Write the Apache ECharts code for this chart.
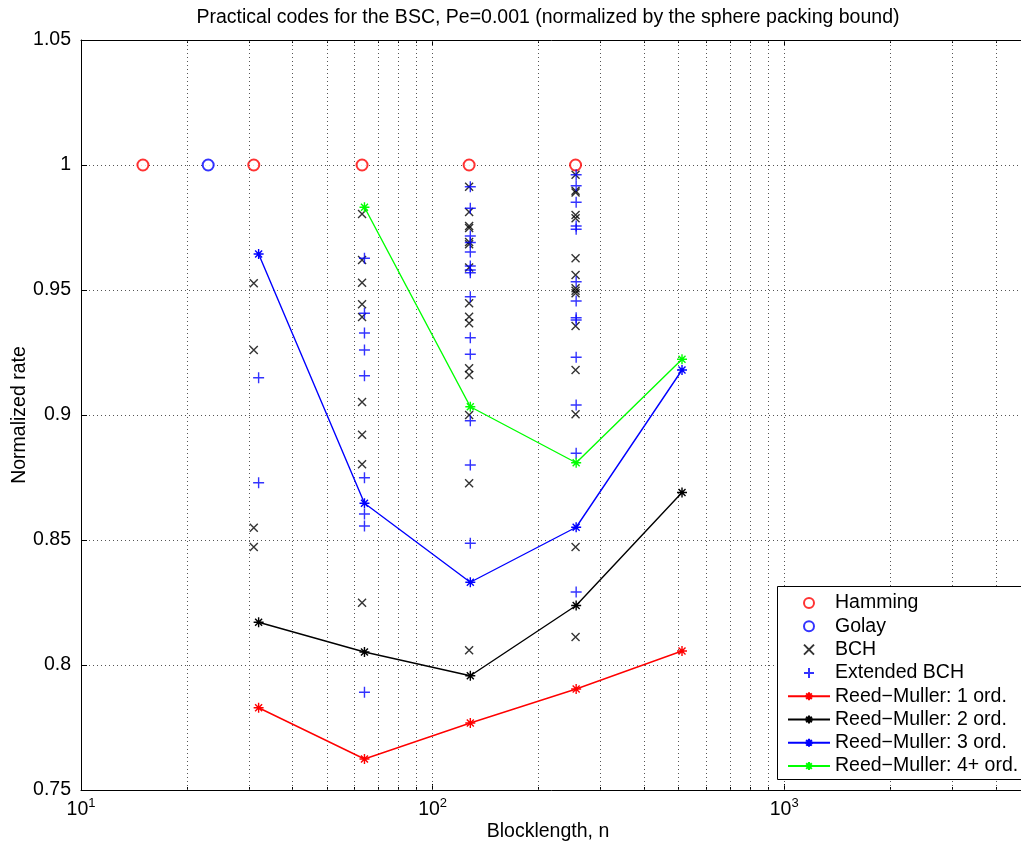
<!DOCTYPE html>
<html><head><meta charset="utf-8">
<script src="https://cdn.jsdelivr.net/npm/echarts@6/dist/echarts.min.js"></script>
<style>html,body{margin:0;padding:0;background:#fff}#c{width:1021px;height:844px}</style>
</head><body><div id="c"></div>
<script>
// ---------- data ----------
const hammingN = [15, 31, 63, 127, 255];
const hammingRate = [1, 1, 1, 1, 1];
const golayN = [23];
const golayRate = [1];

const bchN = [31, 63, 127, 255];
const bchRate31 = [0.9527, 0.926, 0.8549, 0.8472];
const bchRate63 = [0.9804, 0.962, 0.9529, 0.9443, 0.9392, 0.9052, 0.8921, 0.8803, 0.8249];
const bchRate127 = [0.9913, 0.9812, 0.9756, 0.9748, 0.9692, 0.9683, 0.959, 0.9447, 0.9393, 0.9367, 0.9187, 0.916, 0.900, 0.8727, 0.8059];
const bchRate255 = [0.9961, 0.9897, 0.989, 0.980, 0.9787, 0.9627, 0.956, 0.9507, 0.9497, 0.9487, 0.9356, 0.918, 0.9003, 0.8472, 0.8112];

const extN = [32, 64, 128, 256];
const extRate32 = [0.9149, 0.8729];
const extRate64 = [0.9627, 0.9407, 0.9328, 0.926, 0.9157, 0.8749, 0.8604, 0.8556, 0.7891];
const extRate128 = [0.9913, 0.9827, 0.9716, 0.969, 0.9652, 0.9596, 0.958, 0.9569, 0.9473, 0.9309, 0.9243, 0.8977, 0.880, 0.8487];
const extRate256 = [0.9961, 0.9917, 0.9851, 0.9756, 0.9743, 0.9533, 0.9456, 0.9389, 0.938, 0.9231, 0.904, 0.8847, 0.8292];

const rmN = [32, 64, 128, 256, 512];
const rm1Rate = [0.7829, 0.7624, 0.7768, 0.7904, 0.8056];
const rm2Rate = [0.8171, 0.8052, 0.7957, 0.8238, 0.869];
const rm3Rate = [0.9644, 0.8647, 0.8331, 0.8551, 0.918];
const rm4N = [64, 128, 256, 512];
const rm4Rate = [0.9831, 0.9033, 0.8809, 0.9223];

const xMajorTicks = [10, 100, 1000];
const xMinorTicks = [20, 30, 40, 50, 60, 70, 80, 90, 200, 300, 400, 500, 600, 700, 800, 900, 2000, 3000, 4000];

const titleText = 'Practical codes for the BSC, Pe=0.001 (normalized by the sphere packing bound)';
const xLabelText = 'Blocklength, n';
const yLabelText = 'Normalized rate';
const names = ['Hamming', 'Golay', 'BCH', 'Extended BCH',
  'Reed\u2212Muller: 1 ord.', 'Reed\u2212Muller: 2 ord.', 'Reed\u2212Muller: 3 ord.', 'Reed\u2212Muller: 4+ ord.'];

// ---------- helpers ----------
const FONT = "'Liberation Sans', Arial, Helvetica, sans-serif";
const FS = 19.5;
const pairs = (xs, ys) => xs.map((x, i) => [x, ys[i]]);
const column = (n, ys) => ys.map(y => [n, y]);
const bchData = [].concat(column(bchN[0], bchRate31), column(bchN[1], bchRate63), column(bchN[2], bchRate127), column(bchN[3], bchRate255));
const extData = [].concat(column(extN[0], extRate32), column(extN[1], extRate64), column(extN[2], extRate128), column(extN[3], extRate256));

const SYM_X = 'path://M0 0L10 10M0 10L10 0';
const SYM_PLUS = 'path://M5 0L5 10M0 5L10 5';
const SYM_STAR = 'path://M5 0L5 10M0 5L10 5M1.5 1.5L8.5 8.5M1.5 8.5L8.5 1.5';

function strokeStyle(c, w) { return { color: c, borderColor: c, borderWidth: w || 1.3 }; }
function rmSeries(name, c, xs, ys) {
  return {
    name, type: 'line', data: pairs(xs, ys), symbol: SYM_STAR, symbolSize: 10, showAllSymbol: true,
    lineStyle: { color: c, width: 1.4 }, itemStyle: strokeStyle(c, 1.4), emphasis: { disabled: true }, z: 5
  };
}
const gridLineStyle = { color: '#555', width: 1, type: [1, 3] };

const baseX = {
  type: 'log', logBase: 10, min: 10, max: 5000, gridIndex: 0
};

const option = {
  animation: false,
  backgroundColor: '#fff',
  grid: { left: 81, top: 40, right: -9, bottom: 54, containLabel: false, outerBoundsMode: 'none' },
  xAxis: [
    Object.assign({}, baseX, {
      position: 'bottom',
      axisLine: { show: true, lineStyle: { color: '#000', width: 1 } },
      axisTick: { show: true, inside: true, length: 6, customValues: xMajorTicks, lineStyle: { color: '#000' } },
      splitLine: { show: false },
      axisLabel: {
        margin: 7,
        customValues: xMajorTicks,
        formatter: v => '{b|10}{s|' + Math.round(Math.log10(v)) + '}',
        rich: {
          b: { fontSize: FS, fontFamily: FONT, color: '#000' },
          s: { fontSize: 13, fontFamily: FONT, color: '#000', padding: [0, 0, 12, 0] }
        }
      }
    }),
    Object.assign({}, baseX, {
      position: 'bottom',
      axisLine: { show: false },
      axisTick: { show: true, inside: true, length: 3, customValues: xMinorTicks, lineStyle: { color: '#000' } },
      splitLine: { show: false }, axisLabel: { show: false }
    }),
    Object.assign({}, baseX, {
      position: 'top',
      axisLine: { show: true, lineStyle: { color: '#000', width: 1 } },
      axisTick: { show: true, inside: true, length: 6, customValues: xMajorTicks, lineStyle: { color: '#000' } },
      splitLine: { show: false }, axisLabel: { show: false }
    }),
    Object.assign({}, baseX, {
      position: 'top',
      axisLine: { show: false },
      axisTick: { show: true, inside: true, length: 3, customValues: xMinorTicks, lineStyle: { color: '#000' } },
      splitLine: { show: false }, axisLabel: { show: false }
    })
  ],
  yAxis: [{
    type: 'value', min: 0.75, max: 1.05, interval: 0.05,
    name: yLabelText, nameLocation: 'middle', nameGap: 51, nameMoveOverlap: false,
    nameTextStyle: { fontSize: FS, fontFamily: FONT, color: '#000' },
    axisLine: { show: true, lineStyle: { color: '#000', width: 1 } },
    axisTick: { show: true, inside: true, length: 6, lineStyle: { color: '#000' } },
    splitLine: { show: true, lineStyle: gridLineStyle },
    axisLabel: { margin: 10, fontSize: FS, fontFamily: FONT, color: '#000',
      formatter: v => String(Math.round(v * 100) / 100) }
  }],
  legend: {
    orient: 'vertical', left: 778, top: 587, z: 20,
    padding: [6, 4, 4, 9], itemWidth: 42, itemHeight: 10, itemGap: 3.3,
    backgroundColor: 'transparent', borderWidth: 0,
    textStyle: { fontSize: FS, fontFamily: FONT, color: '#000', lineHeight: 20 },
    data: names, selectedMode: false
  },
  graphic: [
    { type: 'text', x: 548, y: 18, silent: true,
      style: { text: titleText, fontSize: FS, fontFamily: FONT, fill: '#000', textAlign: 'center', textVerticalAlign: 'middle' } },
    { type: 'text', x: 548, y: 832, silent: true,
      style: { text: xLabelText, fontSize: FS, fontFamily: FONT, fill: '#000', textAlign: 'center', textVerticalAlign: 'middle' } },
    { type: 'rect', silent: true, z: 15,
      shape: { x: 777.5, y: 586.5, width: 270, height: 193 },
      style: { fill: '#fff', stroke: '#000', lineWidth: 1 } }
  ],
  series: [
    { name: '_grid', type: 'scatter', data: [], silent: true, z: 0,
      markLine: { silent: true, symbol: 'none', label: { show: false }, animation: false,
        lineStyle: gridLineStyle, emphasis: { disabled: true },
        data: xMajorTicks.slice(1).concat(xMinorTicks).map(v => ({ xAxis: v })) } },
    { name: names[0], type: 'scatter', data: pairs(hammingN, hammingRate), symbol: 'emptyCircle', symbolSize: 11,
      itemStyle: { color: '#ff0000', borderColor: '#ff0000', borderWidth: 1.4 }, z: 3 },
    { name: names[1], type: 'scatter', data: pairs(golayN, golayRate), symbol: 'emptyCircle', symbolSize: 11,
      itemStyle: { color: '#0000ff', borderColor: '#0000ff', borderWidth: 1.4 }, z: 3 },
    { name: names[2], type: 'scatter', data: bchData, symbol: SYM_X, symbolSize: 8,
      itemStyle: strokeStyle('#000000', 1.4), z: 3 },
    { name: names[3], type: 'scatter', data: extData, symbol: SYM_PLUS, symbolSize: 11,
      itemStyle: strokeStyle('#0000ff', 1.4), z: 3 },
    rmSeries(names[4], '#ff0000', rmN, rm1Rate),
    rmSeries(names[5], '#000000', rmN, rm2Rate),
    rmSeries(names[6], '#0000ff', rmN, rm3Rate),
    rmSeries(names[7], '#00ff00', rm4N, rm4Rate)
  ]
};
const chart = echarts.init(document.getElementById('c'), null, { renderer: 'canvas' });
chart.setOption(option);
</script></body></html>
